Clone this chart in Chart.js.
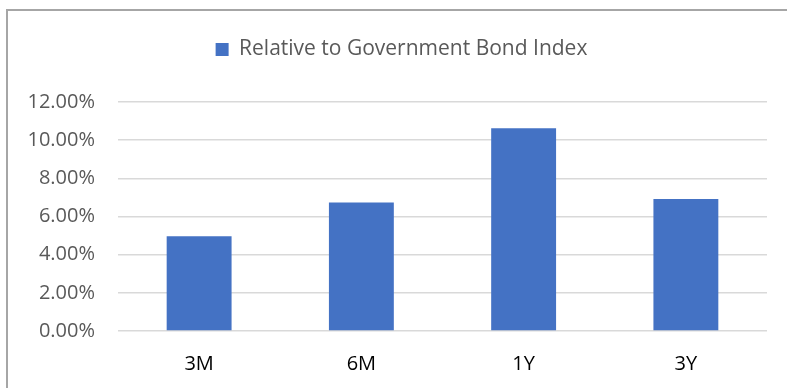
<!DOCTYPE html>
<html>
<head>
<meta charset="utf-8">
<script src="https://cdn.jsdelivr.net/npm/chart.js@4/dist/chart.umd.min.js"></script>
<style>
  html, body { margin: 0; padding: 0; background: #fff; }
  #wrap { position: relative; width: 787px; height: 388px; overflow: hidden; background: #fff; }
  #frame { position: absolute; left: 6px; top: 9px; width: 800px; height: 400px;
           border-top: 2px solid #a6a6a6; border-left: 2px solid #a6a6a6; box-sizing: border-box; }
  canvas { position: absolute; left: 0; top: 0; }
</style>
</head>
<body>
<div id="wrap">
  <div id="frame"></div>
  <canvas id="c" width="787" height="388"></canvas>
</div>
<script>
const categories = ['3M', '6M', '1Y', '3Y'];
const seriesName = 'Relative to Government Bond Index';
const seriesValues = [4.96, 6.73, 10.62, 6.92];
const yTicks = [0, 2, 4, 6, 8, 10, 12];

const FONT = "'Open Sans', 'Noto Sans', sans-serif";

const legendGap = {
  id: 'legendGap',
  beforeInit(chart) {
    const orig = chart.legend.fit;
    chart.legend.fit = function () {
      orig.call(this);
      this.height += 32;
    };
  },
  afterLayout(chart) {
    chart.legend.left += 18;
    chart.legend.right += 18;
  }
};

new Chart(document.getElementById('c'), {
  type: 'bar',
  data: {
    labels: categories,
    datasets: [{
      label: seriesName,
      data: seriesValues,
      backgroundColor: '#4472C4',
      borderWidth: 0,
      categoryPercentage: 0.8,
      barPercentage: 0.5
    }]
  },
  plugins: [legendGap],
  options: {
    responsive: false,
    animation: false,
    devicePixelRatio: 1,
    layout: { padding: { left: 0, right: 20, top: 27, bottom: 0 } },
    plugins: {
      legend: {
        position: 'top',
        align: 'center',
        labels: {
          boxWidth: 13,
          boxHeight: 13,
          color: '#595959',
          font: { family: FONT, size: 21 },
          padding: 12
        }
      },
      tooltip: { enabled: false }
    },
    scales: {
      x: {
        grid: { display: false },
        border: { display: false },
        ticks: { color: '#000', font: { family: FONT, size: 20 }, padding: 13 },
        afterFit(scale) { scale.height = 57; }
      },
      y: {
        min: 0,
        max: 12,
        afterBuildTicks(scale) { scale.ticks = yTicks.map(v => ({ value: v })); },
        grid: { color: '#d9d9d9', lineWidth: 1.5, drawTicks: false },
        border: { display: false },
        ticks: {
          color: '#595959',
          font: { family: FONT, size: 20 },
          padding: 23,
          callback: v => v.toFixed(2) + '%'
        },
        afterFit(scale) { scale.width = 118; }
      }
    }
  }
});
</script>
</body>
</html>
